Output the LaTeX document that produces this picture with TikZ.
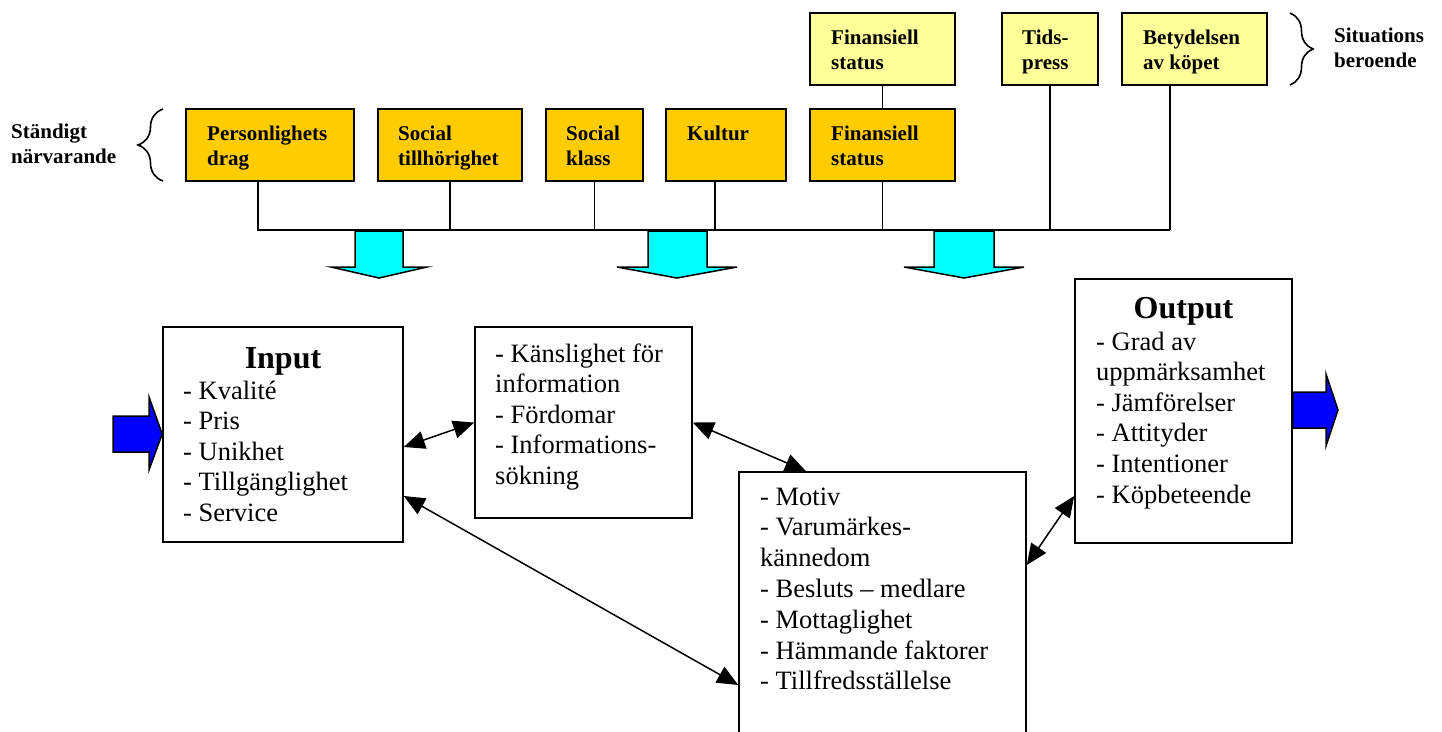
\documentclass[tikz,border=0pt]{standalone}
\usepackage{fontspec}
\setmainfont{Liberation Serif}
\usetikzlibrary{arrows.meta,decorations.pathreplacing}
\definecolor{orangebox}{HTML}{FFCC00}
\definecolor{yellowbox}{HTML}{FFFF99}
\definecolor{cyanarrow}{HTML}{00FFFF}
\definecolor{bluearrow}{HTML}{0000FF}
\begin{document}
\begin{tikzpicture}[x=1pt,y=-1pt,
  obox/.style={draw=black, line width=2pt, fill=orangebox, minimum height=72pt, inner sep=0pt},
  ybox/.style={draw=black, line width=2pt, fill=yellowbox, minimum height=72pt, inner sep=0pt},
  mbox/.style={draw=black, line width=1.6pt, fill=white, inner sep=0pt},
  lbl/.style={anchor=base west, inner sep=0pt, font=\fontsize{21}{25}\selectfont\bfseries},
  itm/.style={anchor=base west, inner sep=0pt, font=\fontsize{26.5}{31}\selectfont},
  ttl/.style={anchor=base, inner sep=0pt, font=\fontsize{32}{38}\selectfont\bfseries},
  conn/.style={line width=1.5pt, {Triangle[length=21pt,width=18pt]}-{Triangle[length=21pt,width=18pt]}},
  link/.style={line width=1.7pt},
  blk/.style={draw=black, line width=1.5pt, line join=miter},
  bracestyle/.style={line width=1.6pt, decorate}
]
\useasboundingbox (0,0) rectangle (1442,731);
\clip (0,0) rectangle (1442,731);
\fill[white] (0,0) rectangle (1442,731);

% top boxes
\node[obox, minimum width=168pt] (pers) at (270,145) {};
\node[obox, minimum width=144pt] (soct) at (450,145) {};
\node[obox, minimum width=97pt]  (sock) at (594.5,145) {};
\node[obox, minimum width=120pt] (kult) at (726,145) {};
\node[obox, minimum width=145pt] (fin)  at (882.5,145) {};
\node[ybox, minimum width=145pt] (finy) at (882.5,49) {};
\node[ybox, minimum width=96pt]  (tids) at (1050,49) {};
\node[ybox, minimum width=145pt] (bet)  at (1194.5,49) {};

\node[lbl] (t1a) at (207,140) {Personlighets};
\node[lbl] (t1b) at (207,165) {drag};
\node[lbl] (t2a) at (398,140) {Social};
\node[lbl] (t2b) at (398,165) {tillhörighet};
\node[lbl] (t3a) at (566,140) {Social};
\node[lbl] (t3b) at (566,165) {klass};
\node[lbl] (t4a) at (687,140) {Kultur};
\node[lbl] (t5a) at (831,140) {Finansiell};
\node[lbl] (t5b) at (831,165) {status};
\node[lbl] (t6a) at (831,44) {Finansiell};
\node[lbl] (t6b) at (831,69) {status};
\node[lbl] (t7a) at (1022,44) {Tids-};
\node[lbl] (t7b) at (1022,69) {press};
\node[lbl] (t8a) at (1143,44) {Betydelsen};
\node[lbl] (t8b) at (1143,69) {av köpet};

\node[lbl] (sta) at (11,138) {Ständigt};
\node[lbl] (stb) at (11,163) {närvarande};
\node[lbl] (sia) at (1334,42) {Situations};
\node[lbl] (sib) at (1334,67) {beroende};

\draw[bracestyle, decoration={brace, amplitude=25pt}] (163,181) -- (163,109);
\draw[bracestyle, decoration={brace, amplitude=23pt}] (1290,13) -- (1290,85);

% connecting lines
\coordinate (barR) at (1170,230);
\draw[link] ([xshift=-12pt]pers.south) |- (barR);
\draw[link] (soct.south) -- (soct.south |- barR);
\draw[link] (sock.south) -- (sock.south |- barR);
\draw[link] ([xshift=-11pt]kult.south) -- ([xshift=-11pt]kult.south |- barR);
\draw[link] (fin.south) -- (fin.south |- barR);
\draw[link] (finy.south) -- (fin.north);
\draw[link] (tids.south) -- (tids.south |- barR);
\draw[link] ([xshift=-24.5pt]bet.south) -- (barR);

% cyan arrows
\filldraw[blk, fill=cyanarrow] (355,231) -- (403,231) -- (403,267) -- (427,267) -- (379,278) -- (331,267) -- (355,267) -- cycle;
\filldraw[blk, fill=cyanarrow] (648,231) -- (707,231) -- (707,267) -- (737,267) -- (677,278) -- (617,267) -- (648,267) -- cycle;
\filldraw[blk, fill=cyanarrow] (934,231) -- (994,231) -- (994,267) -- (1024,267) -- (964,278) -- (904,267) -- (934,267) -- cycle;

% main boxes
\node[mbox, minimum width=240pt, minimum height=215pt] (input) at (283,434.5) {};
\node[mbox, minimum width=217pt, minimum height=191pt] (mid) at (583.5,422.5) {};
\node[mbox, minimum width=287pt, minimum height=268pt] (motiv) at (882.5,606) {};
\node[mbox, minimum width=217pt, minimum height=264pt] (output) at (1183.5,411) {};

\node[ttl] (inttl) at (283,368) {Input};
\foreach \t [count=\i from 0] in {- Kvalité, - Pris, - Unikhet, - Tillgänglighet, - Service}
  \node[itm] (in\i) at (183,399+30.5*\i) {\t};

\foreach \t [count=\i from 0] in {- Känslighet för, information, - Fördomar, - Informations-, sökning}
  \node[itm] (md\i) at (495,362+30.5*\i) {\t};

\foreach \t [count=\i from 0] in {- Motiv, - Varumärkes-, kännedom, - Besluts – medlare, - Mottaglighet, - Hämmande faktorer, - Tillfredsställelse}
  \node[itm] (mo\i) at (760,505+30.8*\i) {\t};

\node[ttl] (outttl) at (1183.5,318) {Output};
\foreach \t [count=\i from 0] in {- Grad av, uppmärksamhet, - Jämförelser, - Attityder, - Intentioner, - Köpbeteende}
  \node[itm] (ou\i) at (1096,350+30.6*\i) {\t};

% blue arrows
\filldraw[blk, fill=bluearrow] (113,416) -- (149,416) -- (149,397) -- (input.west |- 0,434) -- (149,470) -- (149,452) -- (113,452) -- cycle;
\filldraw[blk, fill=bluearrow] (output.east |- 0,392) -- (1326,392) -- (1326,374) -- (1338,410) -- (1326,446) -- (1326,428) -- (output.east |- 0,428) -- cycle;

% connectors
\draw[conn] ([yshift=-12.5pt]input.east) -- (mid.west);
\draw[conn] (mid.east) -- ([xshift=-76.5pt]motiv.north);
\draw[conn] ([yshift=-61.5pt]input.east) -- ([yshift=-79pt]motiv.west);
\draw[conn] ([yshift=41pt]motiv.east) -- ([yshift=-85pt]output.west);
\end{tikzpicture}
\end{document}
